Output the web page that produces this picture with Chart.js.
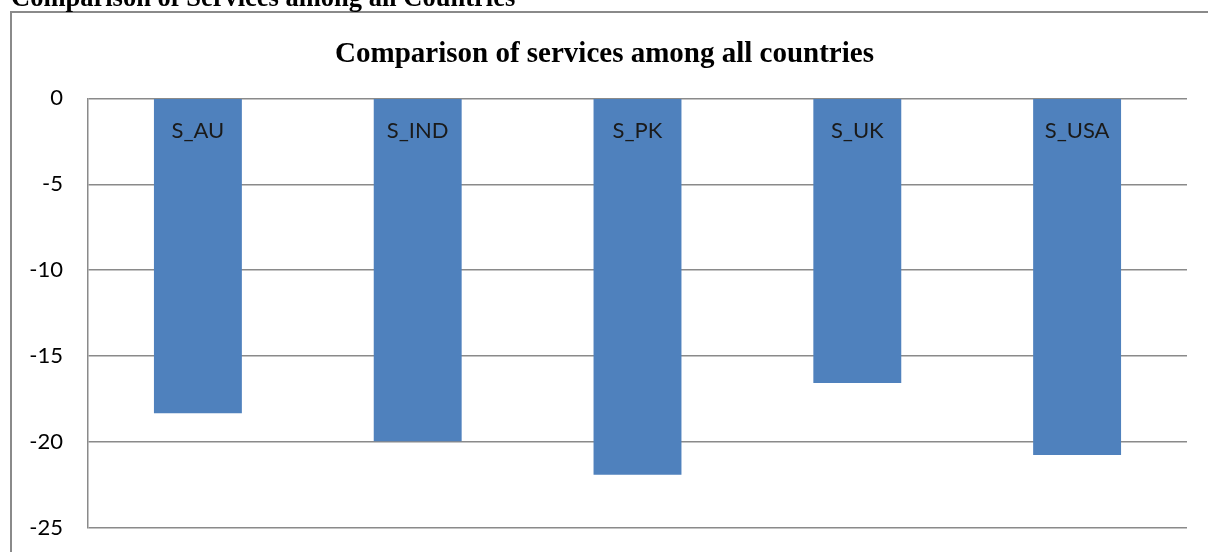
<!DOCTYPE html>
<html><head><meta charset="utf-8">
<script src="https://cdn.jsdelivr.net/npm/chart.js@4.4.0/dist/chart.umd.min.js"></script>
<style>html,body{margin:0;padding:0;background:#fff;overflow:hidden}canvas{display:block}</style>
</head><body>
<canvas id="c" width="1208" height="552"></canvas>
<script>
const categories = ["S_AU", "S_IND", "S_PK", "S_UK", "S_USA"];
const values = [-18.33, -19.95, -21.9, -16.56, -20.75];
const yTicks = [0, -5, -10, -15, -20, -25];
const chartTitle = "Comparison of services among all countries";
const pageHeading = "Comparison of Services among all Countries";

const framePlugin = {
  id: 'frame',
  beforeDraw(chart) {
    const ctx = chart.ctx;
    ctx.save();
    ctx.fillStyle = '#fff';
    ctx.fillRect(0, 0, chart.width, chart.height);
    ctx.strokeStyle = '#8a8a8a';
    ctx.lineWidth = 2;
    ctx.strokeRect(11, 12, chart.width + 20, chart.height + 20);
    ctx.fillStyle = '#000';
    ctx.font = 'bold 26.5px "Liberation Serif", "Times New Roman", serif';
    ctx.textBaseline = 'alphabetic';
    ctx.textAlign = 'left';
    ctx.fillText(pageHeading, 11, 6);
    ctx.restore();
  }
};
const catLabelPlugin = {
  id: 'catLabels',
  afterDatasetsDraw(chart) {
    const ctx = chart.ctx;
    const meta = chart.getDatasetMeta(0);
    const y0 = chart.scales.y.getPixelForValue(0);
    ctx.save();
    ctx.fillStyle = '#1a1a1a';
    ctx.font = '22px Lato, "Liberation Sans", sans-serif';
    ctx.textAlign = 'center';
    ctx.textBaseline = 'middle';
    meta.data.forEach((bar, i) => {
      ctx.fillText(categories[i], bar.x, y0 + 33);
    });
    ctx.restore();
  }
};

new Chart(document.getElementById('c'), {
  type: 'bar',
  data: {
    labels: categories,
    datasets: [{
      data: values,
      backgroundColor: '#4f81bd',
      borderWidth: 0,
      categoryPercentage: 1.0,
      barPercentage: 0.4
    }]
  },
  options: {
    responsive: false,
    animation: false,
    layout: { padding: { left: 22, top: 0, right: 21, bottom: 24 } },
    plugins: {
      legend: { display: false },
      tooltip: { enabled: false },
      title: {
        display: true,
        text: chartTitle,
        color: '#000',
        font: { family: '"Liberation Serif", "Times New Roman", serif', size: 29, weight: 'bold', lineHeight: 1.15 },
        padding: { top: 38, bottom: 27 }
      }
    },
    scales: {
      x: { display: false },
      y: {
        min: -25, max: 0,
        afterFit(scale) { scale.width = 66; scale.paddingTop = 0; scale.paddingBottom = 0; },
        afterBuildTicks(scale) { scale.ticks = yTicks.map(v => ({ value: v })); },
        ticks: {
          color: '#000',
          padding: 25,
          font: { family: 'Lato, "Liberation Sans", sans-serif', size: 22 },
          callback: (v) => String(v)
        },
        grid: { color: '#8a8a8a', lineWidth: 1.5, drawTicks: false },
        border: { display: true, color: '#8a8a8a', width: 1.5 }
      }
    }
  },
  plugins: [framePlugin, catLabelPlugin]
});
</script>
</body></html>
